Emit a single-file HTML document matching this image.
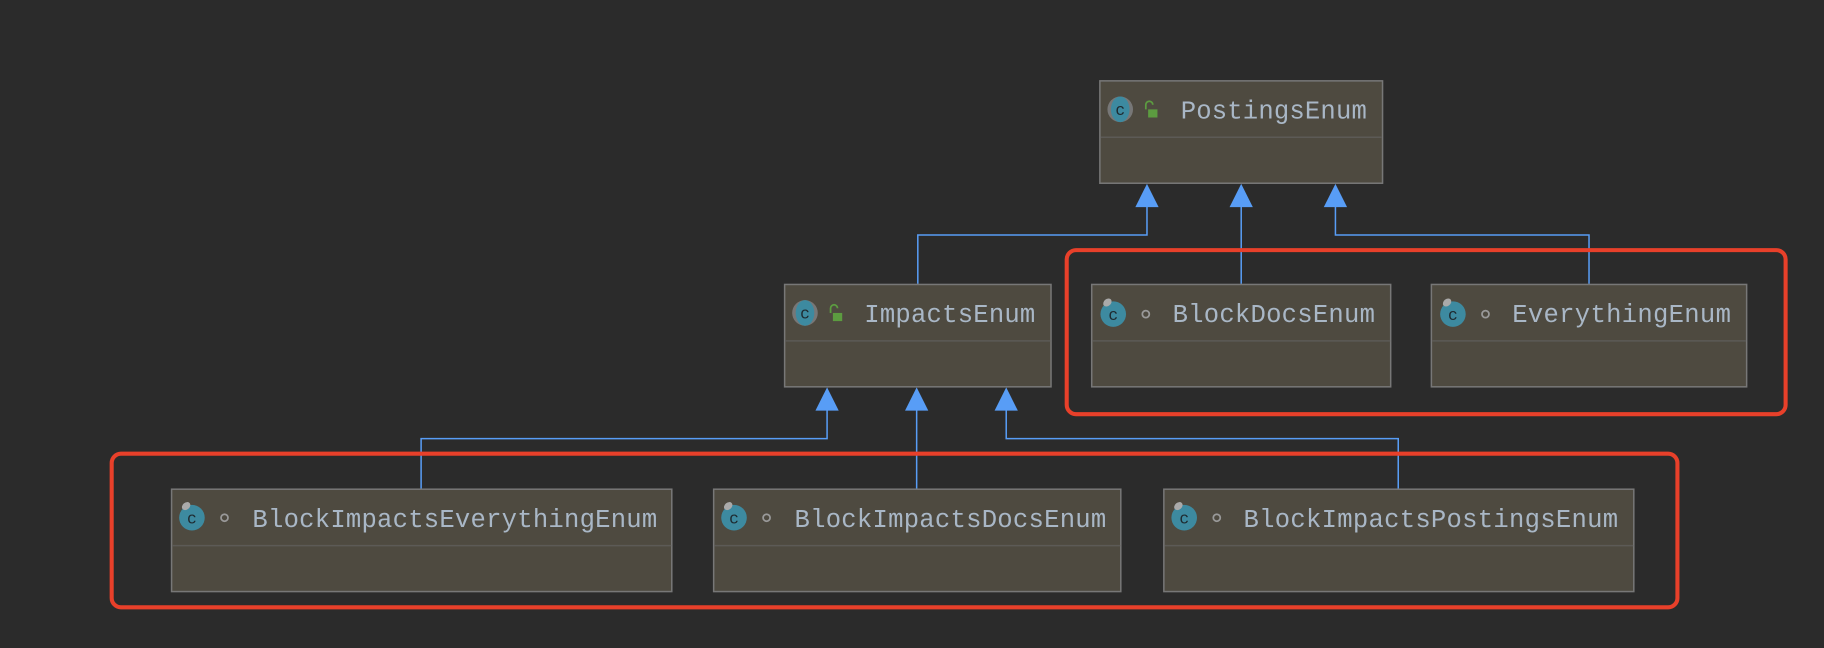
<!DOCTYPE html>
<html><head><meta charset="utf-8"><style>
html,body{margin:0;padding:0;background:#2b2b2b;width:1824px;height:648px;overflow:hidden}
svg{display:block}
text{font-family:"Liberation Mono","DejaVu Sans Mono",monospace}
</style></head><body>
<svg width="1824" height="648" viewBox="0 0 1568 557" preserveAspectRatio="none">
<rect width="1568" height="557" fill="#2b2b2b"/>
<g fill="none" stroke="#589df6" stroke-width="1.3">
<polyline points="986,176 986,202 789,202 789,244"/>
<polyline points="1067,176 1067,244"/>
<polyline points="1148,176 1148,202 1366,202 1366,244"/>
<polyline points="711,351 711,377 362,377 362,420"/>
<polyline points="788,351 788,420"/>
<polyline points="865,351 865,377 1202,377 1202,420"/>
</g>
<g fill="#589df6">
<polygon points="986,158 976,178 996,178"/>
<polygon points="1067,158 1057,178 1077,178"/>
<polygon points="1148,158 1138,178 1158,178"/>
<polygon points="711,333 701,353 721,353"/>
<polygon points="788,333 778,353 798,353"/>
<polygon points="865,333 855,353 875,353"/>
</g>
<g stroke="#777" stroke-width="1.3" fill="#4e4a40">
<rect x="945.5" y="69.5" width="243" height="88"/>
<rect x="674.5" y="244.5" width="229" height="88"/>
<rect x="938.5" y="244.5" width="257" height="88"/>
<rect x="1230.5" y="244.5" width="271" height="88"/>
<rect x="147.5" y="420.5" width="430" height="88"/>
<rect x="613.5" y="420.5" width="350" height="88"/>
<rect x="1000.5" y="420.5" width="404" height="88"/>
</g>
<g stroke="#5c5a56" stroke-width="1.3">
<line x1="946" y1="118" x2="1188" y2="118"/>
<line x1="675" y1="293" x2="903" y2="293"/>
<line x1="939" y1="293" x2="1195" y2="293"/>
<line x1="1231" y1="293" x2="1501" y2="293"/>
<line x1="148" y1="469" x2="577" y2="469"/>
<line x1="614" y1="469" x2="963" y2="469"/>
<line x1="1001" y1="469" x2="1404" y2="469"/>
</g>
<g fill="none" stroke="#e8402a" stroke-width="3.5">
<rect x="917" y="215" width="618" height="141" rx="8"/>
<rect x="96" y="390" width="1346" height="132" rx="8"/>
</g>
<!-- abstract icons -->
<g>
<ellipse cx="963" cy="94" rx="11" ry="11" fill="#777"/><ellipse cx="963" cy="94" rx="8" ry="11" fill="#3d8aa0"/>
<text x="963" y="99" font-size="14" fill="#1e2a30" text-anchor="middle">c</text>
<rect x="987" y="94" width="8" height="7" fill="#5c9c40"/><path d="M985 94 v-4 a3 3 0 0 1 6 0" stroke="#5c9c40" stroke-width="1.5" fill="none"/>
<ellipse cx="692" cy="269" rx="11" ry="11" fill="#777"/><ellipse cx="692" cy="269" rx="8" ry="11" fill="#3d8aa0"/>
<text x="692" y="274" font-size="14" fill="#1e2a30" text-anchor="middle">c</text>
<rect x="716" y="269" width="8" height="7" fill="#5c9c40"/><path d="M714 269 v-4 a3 3 0 0 1 6 0" stroke="#5c9c40" stroke-width="1.5" fill="none"/>
</g>
<g>
<circle cx="957" cy="270" r="11" fill="#3d8aa0"/><ellipse cx="952" cy="260" rx="4" ry="3" fill="#aaa" transform="rotate(-40 952 260)"/><text x="957" y="275" font-size="14" fill="#1e2a30" text-anchor="middle">c</text><circle cx="985" cy="270" r="3" fill="none" stroke="#999" stroke-width="1.5"/>
<circle cx="1249" cy="270" r="11" fill="#3d8aa0"/><ellipse cx="1244" cy="260" rx="4" ry="3" fill="#aaa" transform="rotate(-40 1244 260)"/><text x="1249" y="275" font-size="14" fill="#1e2a30" text-anchor="middle">c</text><circle cx="1277" cy="270" r="3" fill="none" stroke="#999" stroke-width="1.5"/>
<circle cx="165" cy="445" r="11" fill="#3d8aa0"/><ellipse cx="160" cy="435" rx="4" ry="3" fill="#aaa" transform="rotate(-40 160 435)"/><text x="165" y="450" font-size="14" fill="#1e2a30" text-anchor="middle">c</text><circle cx="193" cy="445" r="3" fill="none" stroke="#999" stroke-width="1.5"/>
<circle cx="631" cy="445" r="11" fill="#3d8aa0"/><ellipse cx="626" cy="435" rx="4" ry="3" fill="#aaa" transform="rotate(-40 626 435)"/><text x="631" y="450" font-size="14" fill="#1e2a30" text-anchor="middle">c</text><circle cx="659" cy="445" r="3" fill="none" stroke="#999" stroke-width="1.5"/>
<circle cx="1018" cy="445" r="11" fill="#3d8aa0"/><ellipse cx="1013" cy="435" rx="4" ry="3" fill="#aaa" transform="rotate(-40 1013 435)"/><text x="1018" y="450" font-size="14" fill="#1e2a30" text-anchor="middle">c</text><circle cx="1046" cy="445" r="3" fill="none" stroke="#999" stroke-width="1.5"/>
</g>
<g fill="#a9b7c6" font-size="22">
<text x="1015" y="102" textLength="160">PostingsEnum</text>
<text x="743" y="277" textLength="147">ImpactsEnum</text>
<text x="1008" y="277" textLength="174">BlockDocsEnum</text>
<text x="1300" y="277" textLength="188">EverythingEnum</text>
<text x="217" y="453" textLength="348">BlockImpactsEverythingEnum</text>
<text x="683" y="453" textLength="268">BlockImpactsDocsEnum</text>
<text x="1069" y="453" textLength="322">BlockImpactsPostingsEnum</text>
</g>
</svg>
</body></html>
